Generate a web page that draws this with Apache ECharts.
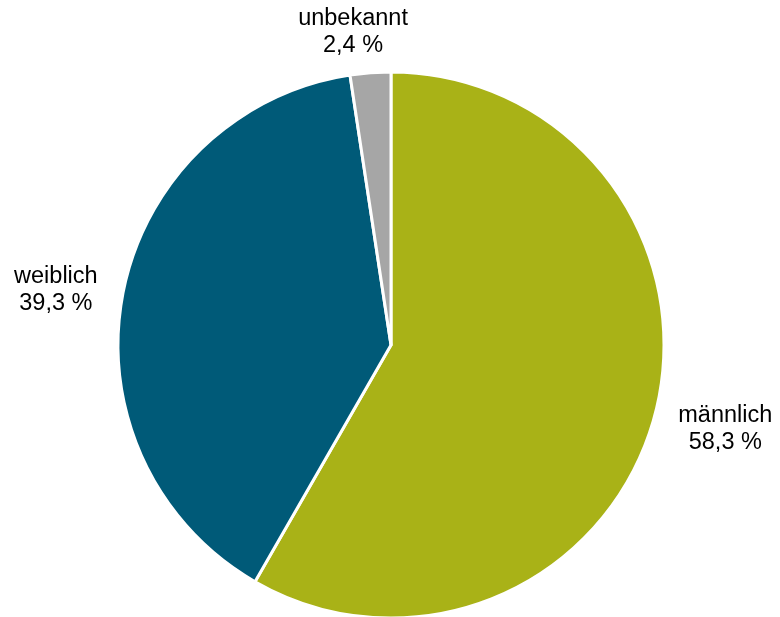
<!DOCTYPE html>
<html>
<head>
<meta charset="utf-8">
<script src="https://cdn.jsdelivr.net/npm/echarts@6/dist/echarts.min.js"></script>
<style>
html,body{margin:0;padding:0;background:#fff;}
#chart{width:780px;height:617px;}
</style>
</head>
<body>
<div id="chart"></div>
<script>
const categories = ['männlich', 'weiblich', 'unbekannt'];
const values = [58.3, 39.3, 2.4];
const colors = ['#a9b217', '#005a78', '#a6a6a6'];
const labelLens = [73, 68, 45];
const labelShift = [[0, -5], [0, 8], [-14, 4]];

const chart = echarts.init(document.getElementById('chart'));
chart.setOption({
  animation: false,
  series: [{
    type: 'pie',
    center: [391, 345],
    radius: [0, 273],
    startAngle: 90,
    clockwise: true,
    avoidLabelOverlap: false,
    itemStyle: { borderColor: '#ffffff', borderWidth: 3 },
    label: {
      show: true,
      position: 'outside',
      distanceToLabelLine: 0,
      fontFamily: 'Liberation Sans, Arial, sans-serif',
      fontSize: 23.5,
      lineHeight: 27,
      color: '#000000',
      formatter: p => p.name + '\n' + p.value.toFixed(1).replace('.', ',') + ' %'
    },
    labelLine: { show: false, length2: 0 },
    labelLayout: p => ({
      align: 'center',
      verticalAlign: 'middle',
      dx: labelShift[p.dataIndex][0],
      dy: labelShift[p.dataIndex][1]
    }),
    data: categories.map((c, i) => ({
      name: c,
      value: values[i],
      itemStyle: { color: colors[i] },
      labelLine: { show: false, length: labelLens[i], length2: 0 }
    }))
  }]
});
</script>
</body>
</html>
